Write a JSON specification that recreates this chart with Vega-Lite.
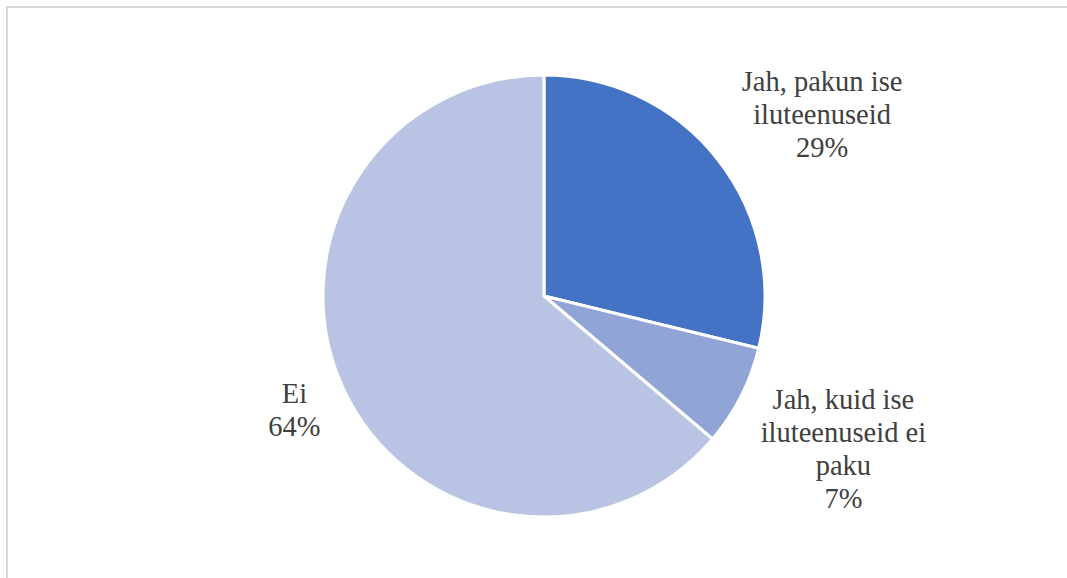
{
  "$schema": "https://vega.github.io/schema/vega-lite/v6.json",
  "autosize": {"type": "none"},
  "width": 1074,
  "height": 578,
  "padding": {"left": 7, "top": 7, "right": -14, "bottom": -7},
  "background": "white",
  "view": {"stroke": "#D9D9D9", "strokeWidth": 2, "fill": "white"},
  "data": {
    "values": [
      {"o": 1, "category": "Jah, pakun ise iluteenuseid", "value": 28.8, "label": "Jah, pakun ise\niluteenuseid\n29%"},
      {"o": 2, "category": "Jah, kuid ise iluteenuseid ei paku", "value": 7.4, "label": "Jah, kuid ise\niluteenuseid ei\npaku\n7%"},
      {"o": 3, "category": "Ei", "value": 63.8, "label": "Ei\n64%"}
    ]
  },
  "encoding": {
    "theta": {"field": "value", "type": "quantitative", "stack": true},
    "order": {"field": "o", "type": "quantitative"}
  },
  "layer": [
    {
      "mark": {"type": "arc", "outerRadius": 221, "stroke": "white", "strokeWidth": 3},
      "encoding": {
        "color": {
          "field": "category",
          "type": "nominal",
          "sort": ["Jah, pakun ise iluteenuseid", "Jah, kuid ise iluteenuseid ei paku", "Ei"],
          "scale": {"range": ["#4472C4", "#90A4D6", "#B9C3E3"]},
          "legend": null
        }
      }
    },
    {
      "mark": {"type": "text", "radius": 332, "dx": 17, "dy": -9, "font": "Liberation Serif", "fontSize": 28.5, "lineHeight": 33, "lineBreak": "\n", "align": "center", "baseline": "middle", "color": "#404040"},
      "encoding": {
        "text": {"condition": {"test": "datum.o == 1", "field": "label"}, "value": ""}
      }
    },
    {
      "mark": {"type": "text", "radius": 336, "dy": -49, "font": "Liberation Serif", "fontSize": 28.5, "lineHeight": 33, "lineBreak": "\n", "align": "center", "baseline": "middle", "color": "#404040"},
      "encoding": {
        "text": {"condition": {"test": "datum.o == 2", "field": "label"}, "value": ""}
      }
    },
    {
      "mark": {"type": "text", "radius": 275, "dy": -18, "font": "Liberation Serif", "fontSize": 28.5, "lineHeight": 33, "lineBreak": "\n", "align": "center", "baseline": "middle", "color": "#404040"},
      "encoding": {
        "text": {"condition": {"test": "datum.o == 3", "field": "label"}, "value": ""}
      }
    }
  ]
}
